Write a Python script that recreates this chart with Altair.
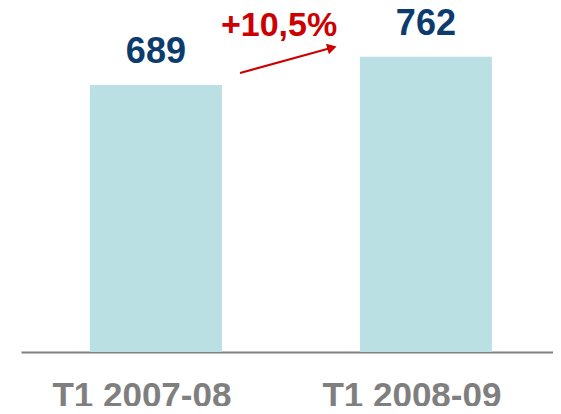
import altair as alt
import pandas as pd

periods = ["T1 2007-08", "T1 2008-09"]
values = [689, 762]
value_labels = ["689", "762"]
growth_label = "+10,5%"

df = pd.DataFrame({"period": periods, "value": values, "label": value_labels})

FONT = "Liberation Sans"

x = alt.X(
    "period:N",
    sort=periods,
    scale=alt.Scale(paddingInner=0.511, paddingOuter=0.2407, align=0.53),
    axis=alt.Axis(
        title=None, ticks=False, grid=False, labelAngle=0, labelFont=FONT, labelFontSize=35,
        labelFontWeight="bold", labelColor="#7f7f7f", labelPadding=26,
        labelOffset=-14, domainColor="#808080", domainWidth=2,
    ),
)
y = alt.Y("value:Q", scale=alt.Scale(domain=[0, 857]), axis=None)

bars = alt.Chart(df).mark_bar(color="#bae0e4").encode(x=x, y=y)

labels = alt.Chart(df).mark_text(
    font=FONT, fontSize=36, fontWeight="bold", color="#0c3b6e",
    baseline="alphabetic", dy=-22,
).encode(x=x, y=y, text="label:N")

growth = alt.Chart(pd.DataFrame({"t": [growth_label]})).mark_text(
    font=FONT, fontSize=34, fontWeight="bold", color="#cc0000",
    baseline="alphabetic", align="center",
).encode(x=alt.value(258), y=alt.value(16), text="t:N")

arrow_line = alt.Chart(pd.DataFrame({"a": [0]})).mark_rule(
    color="#cc0000", strokeWidth=2
).encode(x=alt.value(219), y=alt.value(53), x2=alt.value(308), y2=alt.value(28.5))

arrow_head = alt.Chart(pd.DataFrame({"a": [0]})).mark_point(
    shape="triangle-right", filled=True, color="#cc0000", size=120, angle=344.6, opacity=1
).encode(x=alt.value(311), y=alt.value(27.8))

chart = alt.layer(bars, labels, growth, arrow_line, arrow_head).properties(
    width=532, height=332,
    background="white",
    autosize=alt.AutoSizeParams(type="none"),
    padding={"left": 13, "top": 12, "right": 0, "bottom": 54},
).configure_view(stroke="transparent", strokeWidth=0)

chart.save("out.html", embed_options={"renderer": "svg", "actions": False})
